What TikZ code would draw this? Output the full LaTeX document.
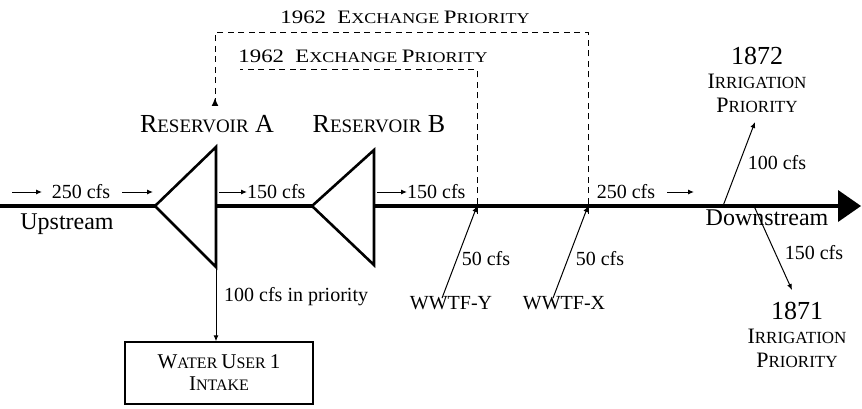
\documentclass[tikz,border=0pt]{standalone}
\usepackage{fontspec}
\setmainfont{Liberation Serif}
\usetikzlibrary{arrows.meta}
\newcommand{\fsz}[2]{{\fontsize{#1}{#1}\selectfont #2}}
\begin{document}
\begin{tikzpicture}[x=1pt,y=-1pt,
  river/.style={line width=3.6pt},
  resv/.style={line width=2.6pt,line join=miter},
  flow/.style={line width=1pt,-{Latex[length=6pt,width=5pt]}},
  dashline/.style={line width=1pt,dash pattern=on 6pt off 4.5pt},
  lbl/.style={inner sep=0pt,font=\fontsize{20}{20}\selectfont},
  big/.style={inner sep=0pt,font=\fontsize{24}{24}\selectfont},
  irr/.style={inner sep=0pt,align=center,font=\fontsize{22}{24}\selectfont},
  boxst/.style={draw,line width=1.4pt,minimum width=188pt,minimum height=62pt,inner sep=0pt,align=center,font=\fontsize{21}{22}\selectfont}]
\useasboundingbox (0,0) rectangle (862,409);
% river coordinates
\coordinate (start) at (0,206);
\coordinate (aL) at (155,206);
\coordinate (aR) at (216,206);
\coordinate (aT) at (216,147);
\coordinate (aB) at (216,267);
\coordinate (bL) at (312,206);
\coordinate (bR) at (374,206);
\coordinate (bT) at (374,150);
\coordinate (bB) at (374,265);
\coordinate (jy) at (477,206);
\coordinate (jx) at (588,206);
\coordinate (j72) at (723,206);
\coordinate (j71) at (754,206);
\coordinate (riverend) at (840,206);
% river
\draw[river] (start) -- (aL);
\draw[river] (aR) -- (bL);
\draw[river] (bR) -- (riverend);
\fill (838,190) -- (861,206) -- (838,222) -- cycle;
% reservoirs
\draw[resv] (aL) -- (aT) -- (aB) -- cycle;
\draw[resv] (bL) -- (bT) -- (bB) -- cycle;
% labels
\node[inner sep=0pt] (resA) at (207,124) {\fsz{26}{R}\fsz{19}{ESERVOIR}\fsz{26}{ A}};
\node[inner sep=0pt] (resB) at (379,124) {\fsz{26}{R}\fsz{19}{ESERVOIR}\fsz{26}{ B}};
\node[big] (up) at (67,224) {Upstream};
\node[big] (down) at (767,218) {Downstream};
% flow labels along river
\node[lbl] (f250a) at (81,192) {250 cfs};
\coordinate (a1s) at (12,192); \coordinate (a1e) at (42,192);
\coordinate (a2s) at (122,192); \coordinate (a2e) at (153,192);
\draw[flow] (a1s) -- (a1e);
\draw[flow] (a2s) -- (a2e);
\node[lbl,anchor=west] (f150a) at (247,192) {150 cfs};
\coordinate (a3s) at (219,192);
\draw[flow] (a3s) -- (f150a.west);
\node[lbl,anchor=west] (f150b) at (407,192) {150 cfs};
\coordinate (a4s) at (377,192);
\draw[flow] (a4s) -- (f150b.west);
\node[lbl] (f250b) at (626,192) {250 cfs};
\coordinate (a5s) at (667,192); \coordinate (a5e) at (694,192);
\draw[flow] (a5s) -- (a5e);
% water user
\node[boxst] (wu) at (219,373) {W\fsz{16}{ATER }U\fsz{16}{SER }1\\I\fsz{16}{NTAKE}};
\draw[flow] (aB) -- (wu.north -| aB);
\node[lbl,anchor=west] (prio) at (224,297) {100 cfs in priority};
% WWTF
\node[lbl] (wy) at (451,303) {WWTF-Y};
\node[lbl] (wx) at (564,303) {WWTF-X};
\draw[flow] ([xshift=-9pt,yshift=-2pt]wy.north) -- (jy);
\draw[flow] ([xshift=-11pt,yshift=-2pt]wx.north) -- (jx);
\node[lbl] (c50y) at (486,259) {50 cfs};
\node[lbl] (c50x) at (600,259) {50 cfs};
% irrigation
\node[irr] (ir72) at (757,80) {\fsz{26}{1872}\\I\fsz{17}{RRIGATION}\\P\fsz{17}{RIORITY}};
\node[irr] (ir71) at (797,335) {\fsz{26}{1871}\\I\fsz{17}{RRIGATION}\\P\fsz{17}{RIORITY}};
\coordinate (t72) at (755,122);
\coordinate (t71) at (792,290);
\draw[flow] (j72) -- (t72);
\draw[flow] (j71) -- (t71);
\node[lbl] (c100) at (777,163) {100 cfs};
\node[lbl] (c150) at (814,253) {150 cfs};
% exchange priorities
\node[inner sep=0pt] (ex1) at (405,17) {\scalebox{1.2}[1]{\fsz{19}{1962\ \ E}\fsz{15}{XCHANGE }\fsz{19}{P}\fsz{15}{RIORITY}}};
\node[inner sep=0pt] (ex2) at (363,56) {\scalebox{1.2}[1]{\fsz{19}{1962\ \ E}\fsz{15}{XCHANGE }\fsz{19}{P}\fsz{15}{RIORITY}}};
\coordinate (o1) at (588,33); \coordinate (o2) at (215,33); \coordinate (o3) at (215,98);
\coordinate (i1) at (477,70); \coordinate (i2) at (240,70);
\draw[dashline] ([yshift=-8pt]jx) -- (o1) -- (o2) -- ([yshift=-6pt]o3);
\draw[-{Latex[length=8pt,width=7pt]},line width=1pt] ([yshift=-7pt]o3) -- (o3);
\draw[dashline] ([yshift=-8pt]jy) -- (i1) -- (i2);
\end{tikzpicture}
\end{document}
